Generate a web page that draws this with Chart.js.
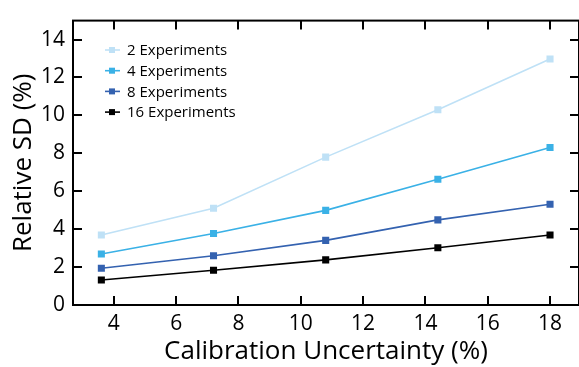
<!DOCTYPE html>
<html lang="en">

<head>
    <meta charset="UTF-8">
    <title>Relative SD vs Calibration Uncertainty</title>
    <script src="https://cdn.jsdelivr.net/npm/chart.js"></script>
    <style>
        html, body { margin: 0; padding: 0; background: #fff; overflow: hidden; }
        #wrap { width: 579px; height: 367px; overflow: hidden; }
    </style>
</head>

<body>
    <div id="wrap">
        <canvas id="grafico" width="584" height="367"></canvas>
    </div>

<script>
    // dados
    var incerteza = [3.6, 7.2, 10.8, 14.4, 18];
    var exp2 = [3.69, 5.1, 7.8, 10.3, 12.97];
    var exp4 = [2.69, 3.77, 4.99, 6.63, 8.31];
    var exp8 = [1.94, 2.6, 3.41, 4.49, 5.31];
    var exp16 = [1.32, 1.83, 2.38, 3.02, 3.69];

    var rotulos = ['2 Experiments', '4 Experiments', '8 Experiments', '16 Experiments'];
    var cores = ['#bfe1f6', '#3ab1e6', '#3462b0', '#000000'];

    var ticksX = [4, 6, 8, 10, 12, 14, 16, 18];
    var ticksY = [0, 2, 4, 6, 8, 10, 12, 14];

    var fonte = '"Open Sans", Lato, sans-serif';

    function serie(valores, i) {
        var pontos = [];
        for (var k = 0; k < incerteza.length; k++) {
            pontos.push({ x: incerteza[k], y: valores[k] });
        }
        return {
            label: rotulos[i],
            data: pontos,
            borderColor: cores[i],
            backgroundColor: cores[i],
            borderWidth: 1.6,
            pointStyle: 'rect',
            pointRadius: 5,
            pointHoverRadius: 5,
            pointBorderWidth: 0,
            tension: 0
        };
    }

    // caixa do gráfico e marcas para dentro
    var moldura = {
        id: 'moldura',
        afterDraw: function (chart) {
            var ctx = chart.ctx;
            var a = chart.chartArea;
            var sx = chart.scales.x;
            var sy = chart.scales.y;
            ctx.save();
            ctx.strokeStyle = '#000';
            ctx.lineWidth = 2;
            ctx.strokeRect(a.left, a.top, a.right - a.left, a.bottom - a.top);
            ctx.beginPath();
            ticksX.forEach(function (v) {
                var px = Math.round(sx.getPixelForValue(v));
                ctx.moveTo(px, a.bottom); ctx.lineTo(px, a.bottom - 9);
                ctx.moveTo(px, a.top); ctx.lineTo(px, a.top + 9);
            });
            ticksY.forEach(function (v) {
                var py = Math.round(sy.getPixelForValue(v));
                ctx.moveTo(a.left, py); ctx.lineTo(a.left + 9, py);
                ctx.moveTo(a.right, py); ctx.lineTo(a.right - 9, py);
            });
            ctx.stroke();

            // legenda
            ctx.font = '15px ' + fonte;
            ctx.textBaseline = 'middle';
            ctx.textAlign = 'left';
            chart.data.datasets.forEach(function (d, i) {
                var y = 50 + i * 20.7;
                ctx.strokeStyle = d.borderColor;
                ctx.fillStyle = d.borderColor;
                ctx.lineWidth = 1.6;
                ctx.beginPath();
                ctx.moveTo(105, y); ctx.lineTo(120, y);
                ctx.stroke();
                ctx.fillRect(109, y - 3, 6, 6);
                ctx.fillStyle = '#000';
                ctx.fillText(d.label, 127, y + 1);
            });
            ctx.restore();
        }
    };

    var config = {
        type: 'line',
        data: {
            datasets: [serie(exp2, 0), serie(exp4, 1), serie(exp8, 2), serie(exp16, 3)]
        },
        options: {
            responsive: false,
            devicePixelRatio: 1,
            animation: false,
            layout: { padding: { top: 13, right: 3, left: 0, bottom: 0 } },
            plugins: {
                legend: { display: false },
                tooltip: { enabled: false }
            },
            scales: {
                x: {
                    type: 'linear',
                    min: 2.69,
                    max: 18.93,
                    afterBuildTicks: function (s) { s.ticks = ticksX.map(function (v) { return { value: v }; }); },
                    afterFit: function (s) { s.height = 62; },
                    grid: { display: false, drawTicks: false, tickLength: 0 },
                    border: { display: false },
                    ticks: { color: '#000', font: { family: fonte, size: 21 }, padding: 6, maxRotation: 0 },
                    title: {
                        display: true,
                        text: 'Calibration Uncertainty (%)',
                        color: '#000',
                        font: { family: fonte, size: 26 },
                        padding: { top: 0, bottom: 0 }
                    }
                },
                y: {
                    min: 0,
                    max: 15,
                    afterBuildTicks: function (s) { s.ticks = ticksY.map(function (v) { return { value: v }; }); },
                    afterFit: function (s) { s.width = 73; },
                    grid: { display: false, drawTicks: false, tickLength: 0 },
                    border: { display: false },
                    ticks: { color: '#000', font: { family: fonte, size: 21 }, padding: 8 },
                    title: {
                        display: true,
                        text: 'Relative SD (%)',
                        color: '#000',
                        font: { family: fonte, size: 26 },
                        padding: { top: 8, bottom: 0 }
                    }
                }
            }
        },
        plugins: [moldura]
    };

    var meuGrafico = new Chart(document.getElementById('grafico'), config);
</script>
</body>

</html>
